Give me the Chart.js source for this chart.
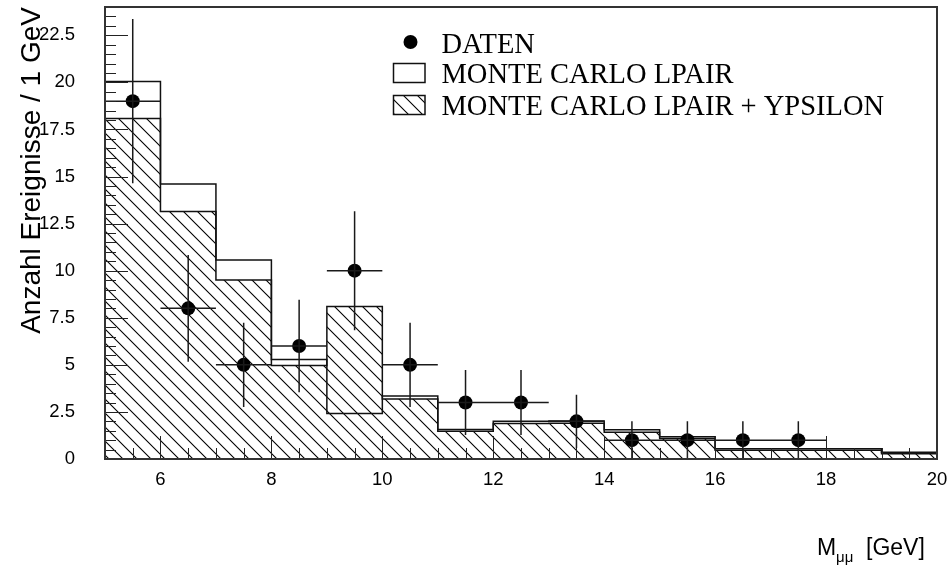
<!DOCTYPE html>
<html>
<head>
<meta charset="utf-8">
<script src="https://cdn.jsdelivr.net/npm/chart.js@4/dist/chart.umd.min.js"></script>
<style>
  html, body { margin: 0; padding: 0; background: #fff; }
  #wrap { width: 948px; height: 569px; position: relative; }
</style>
</head>
<body>
<div id="wrap"><canvas id="c"></canvas></div>
<script>
// Bin edges of the mass histogram, 1 GeV bins
const binEdges = [5, 6, 7, 8, 9, 10, 11, 12, 13, 14, 15, 16, 17, 18, 19, 20];
// Monte Carlo LPAIR (open histogram), events per bin
const mcLpair = [20.05, 14.6, 10.57, 5.28, 2.42, 3.34, 1.57, 2.0, 2.02, 1.55, 1.18, 0.55, 0.55, 0.55, 0.36];
// Monte Carlo LPAIR + Ypsilon (hatched histogram), events per bin
const mcLpairYpsilon = [18.08, 13.14, 9.51, 4.96, 8.1, 3.19, 1.47, 1.88, 1.9, 1.42, 1.09, 0.46, 0.46, 0.47, 0.28];
// Measured data: bin centres, counts and statistical errors
const dataMass = [5.5, 6.5, 7.5, 8.5, 9.5, 10.5, 11.5, 12.5, 13.5, 14.5, 15.5, 16.5, 17.5];
const dataCounts = [19, 8, 5, 6, 10, 5, 3, 3, 2, 1, 1, 1, 1];
const dataErrors = [4.36, 2.83, 2.24, 2.45, 3.16, 2.24, 1.73, 1.73, 1.41, 1, 1, 1, 1];
// Axis tick labels
const xTickLabels = [6, 8, 10, 12, 14, 16, 18, 20];
const yTickLabels = [0, 2.5, 5, 7.5, 10, 12.5, 15, 17.5, 20, 22.5];
// Texts
const legendLabels = ['DATEN', 'MONTE CARLO LPAIR', 'MONTE CARLO LPAIR + YPSILON'];
const yTitle = 'Anzahl Ereignisse / 1 GeV';
const xTitleMain = 'M';
const xTitleSub = 'μμ';
const xTitleUnit = '[GeV]';

// Step outline of a histogram: start and end on the baseline
function stepPoints(values) {
  const pts = [{ x: binEdges[0], y: 0 }];
  values.forEach((v, i) => pts.push({ x: binEdges[i], y: v }));
  pts.push({ x: binEdges[binEdges.length - 1], y: 0 });
  return pts;
}

// Diagonal "\" hatch pattern
function makeHatch(ctx) {
  const s = 14;
  const c = document.createElement('canvas');
  c.width = s; c.height = s;
  const g = c.getContext('2d');
  g.strokeStyle = '#000';
  g.lineWidth = 1.1;
  g.beginPath();
  g.moveTo(-2, -2); g.lineTo(s + 2, s + 2);
  g.moveTo(s - 2, -2); g.lineTo(s + 2, 2);
  g.moveTo(-2, s - 2); g.lineTo(2, s + 2);
  g.stroke();
  return ctx.createPattern(c, 'repeat');
}

const canvas = document.getElementById('c');
const ctx0 = canvas.getContext('2d');
const hatch = makeHatch(ctx0);

const SANS = '"Liberation Sans", Arial, Helvetica, sans-serif';
const SERIF = '"Liberation Serif", "Times New Roman", Times, serif';

// Scales keep a fixed box; no extra room for overhanging labels
function fixBox(size, vertical) {
  return (s) => {
    if (vertical) s.width = size; else s.height = size;
    s.paddingLeft = 0; s.paddingRight = 0; s.paddingTop = 0; s.paddingBottom = 0;
  };
}

// Frame, inward ticks, error bars, legend and x-axis title
const decorations = {
  id: 'decorations',
  afterDatasetsDraw(chart) {
    const { ctx, scales: { x, y } } = chart;
    ctx.save();
    ctx.strokeStyle = '#1a1a1a';
    ctx.lineWidth = 1.5;
    ctx.beginPath();
    dataMass.forEach((m, i) => {
      const px = x.getPixelForValue(m);
      const py = y.getPixelForValue(dataCounts[i]);
      ctx.moveTo(x.getPixelForValue(m - 0.5), py);
      ctx.lineTo(x.getPixelForValue(m + 0.5), py);
      ctx.moveTo(px, y.getPixelForValue(dataCounts[i] + dataErrors[i]));
      ctx.lineTo(px, y.getPixelForValue(Math.max(0, dataCounts[i] - dataErrors[i])));
    });
    ctx.stroke();
    ctx.restore();
  },
  afterDraw(chart) {
    const { ctx, chartArea: a, scales: { x, y } } = chart;
    ctx.save();
    // ticks pointing into the plot
    ctx.strokeStyle = '#222';
    ctx.lineWidth = 1;
    ctx.beginPath();
    for (let v = x.min; v <= x.max + 1e-9; v += 0.5) {
      const px = Math.round(x.getPixelForValue(v)) + 0.5;
      const len = (Math.abs(v % 2) < 1e-9) ? 23 : 11;
      ctx.moveTo(px, a.bottom);
      ctx.lineTo(px, a.bottom - len);
    }
    for (let v = y.min; v <= y.max + 1e-9; v += 0.5) {
      const py = Math.round(y.getPixelForValue(v)) + 0.5;
      const len = (Math.abs(v % 2.5) < 1e-9) ? 23 : 11;
      ctx.moveTo(a.left, py);
      ctx.lineTo(a.left + len, py);
    }
    ctx.stroke();
    // frame
    ctx.strokeStyle = '#333';
    ctx.lineWidth = 2;
    ctx.strokeRect(a.left, a.top, a.right - a.left, a.bottom - a.top);

    // legend
    ctx.fillStyle = '#000';
    ctx.beginPath();
    ctx.arc(410.5, 42, 7, 0, Math.PI * 2);
    ctx.fill();
    ctx.strokeStyle = '#111';
    ctx.lineWidth = 1.5;
    ctx.strokeRect(393.5, 63.5, 31.5, 19);
    ctx.fillStyle = hatch;
    ctx.fillRect(393.5, 95.5, 31.5, 19);
    ctx.strokeRect(393.5, 95.5, 31.5, 19);
    ctx.fillStyle = '#000';
    ctx.font = '28.5px ' + SERIF;
    ctx.textBaseline = 'alphabetic';
    ctx.textAlign = 'left';
    ctx.fillText(legendLabels[0], 441.5, 52.5);
    ctx.fillText(legendLabels[1], 441.5, 83);
    ctx.fillText(legendLabels[2], 441.5, 114.5);

    // x-axis title with subscript
    ctx.font = '23px ' + SANS;
    ctx.fillText(xTitleMain, 817, 555);
    ctx.font = '15px ' + SANS;
    ctx.fillText(xTitleSub, 836, 562);
    ctx.font = '23px ' + SANS;
    ctx.fillText(xTitleUnit, 866, 555);
    ctx.restore();
  }
};

new Chart(canvas, {
  type: 'line',
  data: {
    datasets: [
      {
        type: 'scatter',
        label: legendLabels[0],
        data: dataMass.map((m, i) => ({ x: m, y: dataCounts[i] })),
        pointRadius: 7,
        pointBackgroundColor: '#000',
        pointBorderWidth: 0,
        showLine: false
      },
      {
        label: legendLabels[1],
        data: stepPoints(mcLpair),
        stepped: true,
        borderColor: '#111',
        borderWidth: 1.5,
        pointRadius: 0,
        fill: false
      },
      {
        label: legendLabels[2],
        data: stepPoints(mcLpairYpsilon),
        stepped: true,
        borderColor: '#111',
        borderWidth: 1.5,
        pointRadius: 0,
        backgroundColor: hatch,
        fill: 'origin'
      }
    ]
  },
  options: {
    responsive: true,
    maintainAspectRatio: false,
    animation: false,
    events: [],
    layout: { padding: { left: 0, top: 6, right: 11, bottom: 0 } },
    plugins: { legend: { display: false }, tooltip: { enabled: false } },
    scales: {
      x: {
        type: 'linear',
        min: 5,
        max: 20,
        grid: { display: false, drawTicks: false },
        border: { display: false },
        afterBuildTicks: (s) => { s.ticks = xTickLabels.map(v => ({ value: v })); },
        afterFit: fixBox(110, false),
        ticks: {
          padding: 10,
          color: '#000',
          font: { family: SANS, size: 18.5 },
          maxRotation: 0,
          callback: (v) => String(v)
        }
      },
      y: {
        type: 'linear',
        min: 0,
        max: 24,
        grid: { display: false, drawTicks: false },
        border: { display: false },
        afterBuildTicks: (s) => { s.ticks = yTickLabels.map(v => ({ value: v })); },
        afterFit: fixBox(105, true),
        ticks: {
          padding: 30,
          color: '#000',
          font: { family: SANS, size: 18.5 },
          callback: (v) => String(v)
        },
        title: {
          display: true,
          text: yTitle,
          align: 'end',
          color: '#000',
          font: { family: SANS, size: 28 },
          padding: { top: 15, bottom: 0 }
        }
      }
    }
  },
  plugins: [decorations]
});
</script>
</body>
</html>
